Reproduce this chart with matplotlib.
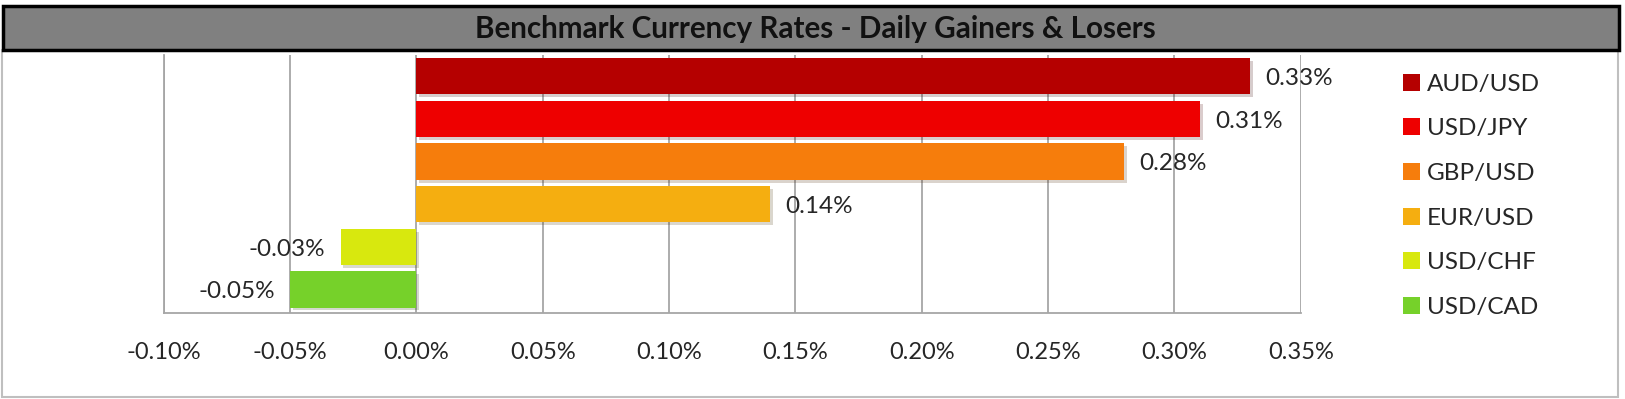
import matplotlib
matplotlib.use("Agg")
import matplotlib.pyplot as plt
from matplotlib.patches import Rectangle, Patch
import matplotlib.patheffects as pe

pairs = ["AUD/USD", "USD/JPY", "GBP/USD", "EUR/USD", "USD/CHF", "USD/CAD"]
changes = [0.33, 0.31, 0.28, 0.14, -0.03, -0.05]
colors = ["#B50000", "#EE0000", "#F67D0C", "#F5AE10", "#D8E80E", "#76D12A"]
xticks = [-0.10, -0.05, 0.00, 0.05, 0.10, 0.15, 0.20, 0.25, 0.30, 0.35]

W, H = 1625, 399
plt.rcParams["font.family"] = ["Lato", "DejaVu Sans"]
fig = plt.figure(figsize=(W / 100, H / 100), dpi=100)

# outer frame and title bar
fig.patches.append(Rectangle((2 / W, 2 / H), 1616 / W, 347 / H, transform=fig.transFigure,
                             facecolor="white", edgecolor="#BFBFBF", lw=1.5, zorder=0))
fig.patches.append(Rectangle((3 / W, 1 - 50 / H), 1616 / W, 44 / H, transform=fig.transFigure,
                             facecolor="#808080", edgecolor="black", lw=2.5, zorder=1))
fig.text(815 / W, 1 - 29 / H, "Benchmark Currency Rates - Daily Gainers & Losers",
         ha="center", va="center", fontsize=21.3, fontweight="bold", color="#111111")

ax = fig.add_axes([163.8 / W, 86 / H, 1137 / W, 258 / H], zorder=5)
ax.patch.set_alpha(0)
shadow = [pe.SimplePatchShadow(offset=(2, -2), alpha=0.2), pe.Normal()]
for i, (p, v, c) in enumerate(zip(pairs, changes, colors)):
    b = ax.barh(i, v, height=0.85, color=c, zorder=3)
    for r in b:
        r.set_path_effects(shadow)
    off = 0.006
    if v >= 0:
        ax.text(v + off, i + 0.05, f"{v:.2f}%", ha="left", va="center", fontsize=17.5,
                color="#262626", zorder=4)
    else:
        ax.text(v - off, i + 0.05, f"{v:.2f}%", ha="right", va="center", fontsize=17.5,
                color="#262626", zorder=4)

ax.set_xlim(-0.10, 0.35)
ax.set_ylim(5.55, -0.5)
ax.set_xticks(xticks)
ax.set_xticklabels([f"{t:.2f}%" for t in xticks], fontsize=17, color="#262626")
ax.set_yticks([])
ax.tick_params(axis="x", length=0, pad=21)
ax.grid(axis="x", color="#A6A6A6", lw=1.3, zorder=0)
for s in ["top", "right"]:
    ax.spines[s].set_visible(False)
for s in ["left", "bottom"]:
    ax.spines[s].set_color("#A6A6A6")
    ax.spines[s].set_linewidth(1.3)

handles = [Patch(facecolor=c, label=p) for p, c in zip(pairs, colors)]
fig.legend(handles=handles, loc="upper left", bbox_to_anchor=(1381 / W, 1 - 52 / H),
           frameon=False, fontsize=17.5, handlelength=0.7, handleheight=0.7,
           handletextpad=0.3, labelspacing=0.97, labelcolor="#262626")

fig.savefig("out.png", dpi=100)
